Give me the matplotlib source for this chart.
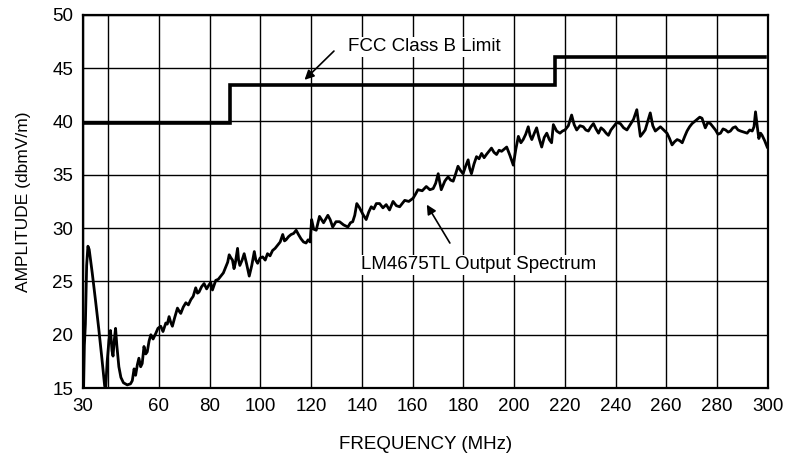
import matplotlib
matplotlib.use("Agg")
import matplotlib.pyplot as plt

plt.rcParams['font.family'] = ['Liberation Sans', 'DejaVu Sans']

# FCC Class B limit (step line)
limit_freq = [30, 88, 88, 216, 216, 299]
limit_amp = [39.9, 39.9, 43.4, 43.4, 46.0, 46.0]

# LM4675TL output spectrum
spec_freq = [30.3, 30.6, 31.0, 31.5, 32.0, 32.5, 33.7, 35.0, 36.3, 37.5, 38.6, 39.0,
             39.6, 40.3, 40.9, 41.5, 41.9, 42.4, 42.9, 43.4, 44.2, 45.0, 46.0, 47.5,
             48.8, 49.5, 50.2, 50.8, 51.5, 52.1, 52.8, 53.4, 54.1, 54.8, 55.4, 56.1,
             56.8, 57.7, 58.7, 59.6, 60.7, 61.6, 62.7, 63.3, 64.0, 64.6, 65.3, 66.2,
             67.3, 68.0, 68.6, 69.6, 70.6, 71.6, 72.6, 73.5, 74.5, 75.2, 75.8, 76.8,
             77.8, 78.8, 79.8, 80.4, 81.1, 81.8, 82.4, 83.4, 84.4, 85.4, 86.4, 87.1,
             87.7, 88.4, 89.0, 89.6, 90.1, 90.6, 91.0, 91.4, 91.9, 92.8, 93.6, 94.6,
             95.6, 96.6, 97.6, 98.2, 98.9, 99.9, 100.9, 101.9, 102.8, 103.8, 104.8, 105.8,
             106.8, 107.8, 108.8, 109.5, 110.1, 111.1, 112.1, 113.1, 114.1, 115.0, 116.0, 117.0,
             118.0, 118.8, 119.6, 120.2, 121.0, 122.0, 123.3, 124.9, 126.6, 127.5, 128.5, 129.8,
             131.2, 132.8, 134.5, 135.5, 136.4, 137.2, 138.0, 139.1, 140.4, 141.7, 142.7, 143.7,
             144.7, 145.7, 147.0, 148.3, 149.6, 150.9, 152.3, 153.6, 154.9, 155.9, 156.9, 158.5,
             160.2, 161.2, 162.1, 163.8, 165.4, 166.8, 168.1, 169.1, 170.1, 170.7, 171.3, 172.0,
             172.7, 173.3, 174.0, 175.0, 176.0, 177.0, 177.9, 178.9, 179.9, 180.9, 181.9, 182.5,
             183.2, 184.2, 185.2, 186.2, 187.2, 188.2, 189.1, 190.1, 191.1, 192.1, 193.1, 194.1,
             195.1, 196.1, 197.1, 198.4, 199.7, 200.7, 201.7, 202.7, 203.6, 204.6, 205.6, 206.3,
             207.0, 208.0, 208.9, 209.9, 210.9, 211.9, 212.9, 213.9, 214.8, 215.5, 216.8, 218.1,
             219.1, 220.1, 221.4, 222.7, 223.7, 224.7, 226.0, 227.3, 228.3, 229.3, 230.3, 231.3,
             232.3, 233.3, 234.3, 235.3, 236.3, 237.2, 238.2, 239.2, 240.5, 241.9, 243.2, 244.5,
             245.8, 247.1, 248.4, 249.8, 250.8, 251.7, 252.7, 253.7, 254.7, 255.7, 256.7, 257.7,
             259.0, 260.3, 261.3, 262.3, 263.3, 264.3, 265.3, 266.3, 267.3, 268.2, 269.2, 270.2,
             271.2, 272.2, 273.2, 274.1, 275.4, 276.4, 277.4, 278.4, 279.4, 280.4, 281.4, 282.4,
             283.4, 284.4, 285.3, 286.3, 287.3, 288.3, 289.3, 290.6, 291.9, 292.9, 293.9, 294.6,
             295.2, 295.9, 296.5, 297.2, 297.8, 298.8, 299.8]
spec_amp = [15.0, 19.0, 21.0, 26.5, 28.3, 28.0, 25.8, 23.2, 20.5, 17.8, 15.2, 15.0,
            17.5, 19.5, 20.4, 18.5, 18.0, 19.5, 20.6, 19.0, 17.0, 16.0, 15.5, 15.3,
            15.4, 15.7, 16.8, 16.2, 17.2, 17.8, 17.0, 17.3, 18.9, 18.2, 18.4, 19.4,
            20.0, 19.6, 20.1, 20.6, 20.8, 20.3, 21.1, 21.0, 21.7, 21.2, 20.8, 21.6,
            22.5, 22.2, 22.0, 22.6, 23.0, 22.8, 23.3, 23.6, 24.4, 23.9, 24.0, 24.5,
            24.8, 24.3, 24.7, 24.9, 24.2, 24.7, 25.1, 25.2, 25.5, 25.8, 26.4, 26.8,
            27.5, 27.2, 27.0, 26.2, 26.7, 27.5, 28.1, 27.0, 26.5, 27.0, 27.6, 26.6,
            25.5, 26.5, 27.8, 27.0, 26.7, 27.2, 27.3, 27.0, 27.6, 27.4, 27.9, 28.1,
            28.4, 28.7, 29.4, 28.8, 28.9, 29.2, 29.4, 29.5, 29.8, 29.4, 29.0, 28.7,
            28.6, 28.9, 28.7, 30.8, 29.9, 29.8, 31.1, 30.5, 31.2, 30.8, 30.1, 30.6,
            30.6, 30.3, 30.1, 30.5, 30.6, 31.2, 32.3, 31.9, 31.3, 30.8, 31.5, 32.0,
            31.8, 32.3, 32.3, 31.9, 32.2, 31.7, 32.5, 32.1, 32.0, 32.3, 32.6, 32.5,
            32.8, 33.2, 33.6, 33.5, 33.9, 33.6, 33.7, 34.2, 35.1, 34.3, 33.6, 34.0,
            34.4, 34.6, 34.8, 34.5, 34.4, 35.1, 35.8, 35.4, 35.1, 35.8, 36.4, 35.6,
            35.1, 36.0, 36.7, 36.5, 37.0, 36.6, 36.9, 37.2, 37.5, 37.1, 36.9, 37.3,
            37.2, 37.4, 37.6, 36.8, 35.9, 37.4, 38.6, 38.0, 38.3, 38.8, 39.5, 38.7,
            38.3, 38.9, 39.4, 38.4, 37.6, 38.5, 38.9, 38.3, 38.0, 39.7, 39.1, 38.9,
            39.1, 39.2, 39.6, 40.6, 39.7, 39.2, 39.6, 39.5, 39.2, 39.1, 39.5, 39.8,
            39.3, 38.9, 39.4, 39.2, 38.9, 38.7, 39.2, 39.5, 39.9, 39.8, 39.4, 39.2,
            39.7, 40.2, 41.1, 38.6, 38.9, 39.2, 40.0, 40.8, 39.6, 39.1, 39.3, 39.5,
            39.2, 38.9, 38.4, 37.8, 38.1, 38.3, 38.2, 38.0, 38.6, 39.1, 39.5, 39.8,
            40.0, 40.2, 40.4, 40.3, 39.4, 39.9, 39.8, 39.5, 39.2, 38.8, 38.9, 39.3,
            39.2, 39.0, 39.1, 39.4, 39.5, 39.2, 39.1, 39.0, 38.9, 39.2, 39.1, 39.5,
            40.9, 39.5, 38.4, 38.9, 38.7, 38.2, 37.6]

x_ticks = [30, 40, 60, 80, 100, 120, 140, 160, 180, 200, 220, 240, 260, 280, 300]
x_labels = ['30', '', '60', '80', '100', '120', '140', '160', '180', '200',
            '220', '240', '260', '280', '300']
y_ticks = [15, 20, 25, 30, 35, 40, 45, 50]

fig = plt.figure(figsize=(7.89, 4.62), dpi=100)
ax = fig.add_axes([0.105, 0.16, 0.868, 0.808])

ax.plot(limit_freq, limit_amp, color='black', linewidth=2.6, solid_joinstyle='miter')
ax.plot(spec_freq, spec_amp, color='black', linewidth=2.0)

ax.set_xlim(30, 300)
ax.set_ylim(15, 50)
ax.set_xticks(x_ticks)
ax.set_xticklabels(x_labels)
ax.set_yticks(y_ticks)
ax.tick_params(length=0, labelsize=13.5, pad=7)
ax.grid(True, color='black', linewidth=1.0)
ax.set_axisbelow(True)
for s in ax.spines.values():
    s.set_linewidth(1.6)

ax.set_xlabel('FREQUENCY (MHz)', fontsize=13.5, labelpad=15)
ax.set_ylabel('AMPLITUDE (dbmV/m)', fontsize=12.5, labelpad=15)

# Annotations
arrow = dict(arrowstyle='-|>', color='black', lw=1.2, mutation_scale=14, shrinkA=0, shrinkB=0)
ax.annotate('', xy=(117.4, 43.9), xytext=(129.0, 46.6), arrowprops=arrow)
ax.text(164.5, 47.0, 'FCC Class B Limit', fontsize=13.5, ha='center', va='center',
        bbox=dict(facecolor='white', edgecolor='none', pad=1))
ax.annotate('', xy=(165.6, 32.2), xytext=(174.7, 28.6), arrowprops=arrow)
ax.text(186.0, 26.55, 'LM4675TL Output Spectrum', fontsize=13.5, ha='center', va='center',
        bbox=dict(facecolor='white', edgecolor='none', pad=1))

fig.savefig('out.png', dpi=100)
